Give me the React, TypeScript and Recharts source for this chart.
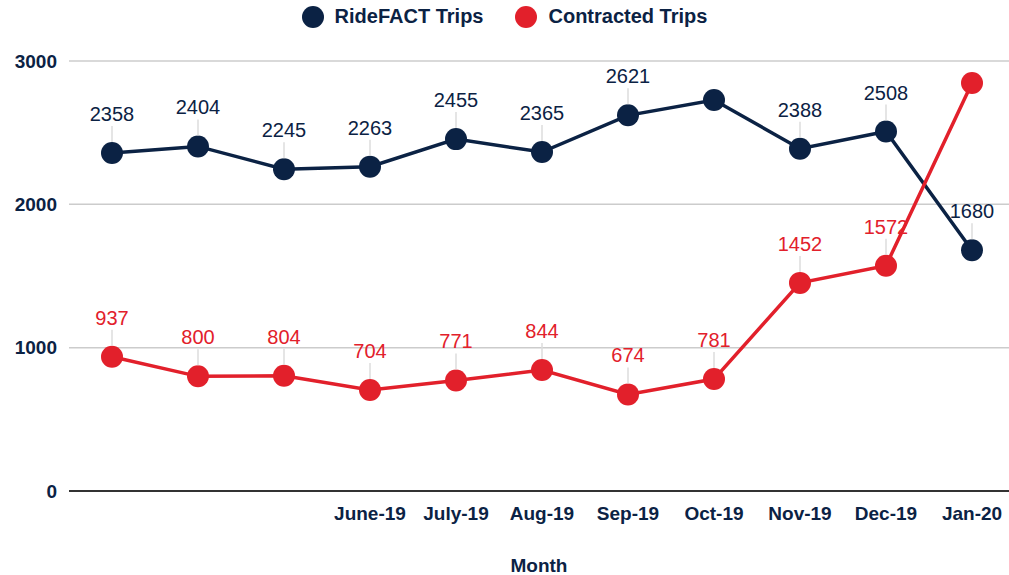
import React from 'react';
import { LineChart, Line, XAxis, YAxis, CartesianGrid } from 'recharts';

// Monthly trip counts. First three months have no tick label in the source.
const tickLabels = ['', '', '', 'June-19', 'July-19', 'Aug-19', 'Sep-19', 'Oct-19', 'Nov-19', 'Dec-19', 'Jan-20'];
const rideFactTrips = [2358, 2404, 2245, 2263, 2455, 2365, 2621, 2728, 2388, 2508, 1680];
const contractedTrips = [937, 800, 804, 704, 771, 844, 674, 781, 1452, 1572, 2847];
// points whose value label is not shown in the source
const rideFactHidden = [7];
const contractedHidden = [10];
const yTicks = [0, 1000, 2000, 3000];

const NAVY = '#0b2244';
const RED = '#e2202b';
const FONT = '"Liberation Sans", Arial, sans-serif';

const data = tickLabels.map((label, i) => ({
  idx: i,
  label,
  ride: rideFactTrips[i],
  contracted: contractedTrips[i],
}));

function makeLabel(color: string, hidden: number[]) {
  return function PointLabel(props: any) {
    const { x, y, value, index } = props;
    if (hidden.includes(index)) return null;
    return (
      <g>
        <line x1={x} y1={y - 11} x2={x} y2={y - 27} stroke="#dcdcdc" strokeWidth={1.5} />
        <text x={x} y={y - 32} textAnchor="middle" fill={color} fontSize={20} fontFamily={FONT}>
          {value}
        </text>
      </g>
    );
  };
}

function ChartLegend() {
  const items = [
    { name: 'RideFACT Trips', color: NAVY },
    { name: 'Contracted Trips', color: RED },
  ];
  return (
    <div
      style={{
        position: 'absolute',
        top: 5,
        left: 0,
        width: 1009,
        display: 'flex',
        justifyContent: 'center',
        gap: 32,
        fontFamily: FONT,
      }}
    >
      {items.map((it) => (
        <div key={it.name} style={{ display: 'flex', alignItems: 'center', gap: 11 }}>
          <span
            style={{ width: 22, height: 22, borderRadius: '50%', background: it.color, display: 'inline-block' }}
          />
          <span style={{ fontWeight: 700, fontSize: 20, color: NAVY }}>{it.name}</span>
        </div>
      ))}
    </div>
  );
}

export default function App() {
  return (
    <div style={{ position: 'absolute', left: 0, top: 0, width: 1009, height: 575, background: '#fff' }}>
      <LineChart width={1009} height={575} data={data} margin={{ top: 61, right: 0, bottom: 0, left: 0 }}>
        <CartesianGrid vertical={false} stroke="#cccccc" strokeWidth={1.5} />
        <XAxis
          dataKey="idx"
          type="category"
          padding={{ left: 43, right: 37 }}
          tickLine={false}
          tickSize={6}
          tickMargin={10}
          axisLine={{ stroke: '#333333', strokeWidth: 2 }}
          tickFormatter={(v: number) => tickLabels[v]}
          tick={{ fill: NAVY, fontSize: 19, fontWeight: 700, fontFamily: FONT }}
          height={84}
          interval={0}
          label={{
            value: 'Month',
            position: 'insideBottom',
            offset: 3,
            fill: NAVY,
            fontSize: 19,
            fontWeight: 700,
            fontFamily: FONT,
          }}
        />
        <YAxis
          domain={[0, 3000]}
          ticks={yTicks}
          width={69}
          axisLine={false}
          tickLine={false}
          tickSize={0}
          tickMargin={12}
          tick={{ fill: NAVY, fontSize: 19, fontWeight: 700, fontFamily: FONT }}
        />
        <Line
          dataKey="ride"
          name="RideFACT Trips"
          stroke={NAVY}
          strokeWidth={3.5}
          dot={{ r: 11, fill: NAVY, stroke: NAVY, strokeWidth: 0 }}
          activeDot={false}
          label={makeLabel(NAVY, rideFactHidden)}
          isAnimationActive={false}
        />
        <Line
          dataKey="contracted"
          name="Contracted Trips"
          stroke={RED}
          strokeWidth={3.5}
          dot={{ r: 11, fill: RED, stroke: RED, strokeWidth: 0 }}
          activeDot={false}
          label={makeLabel(RED, contractedHidden)}
          isAnimationActive={false}
        />
      </LineChart>
      <ChartLegend />
    </div>
  );
}
